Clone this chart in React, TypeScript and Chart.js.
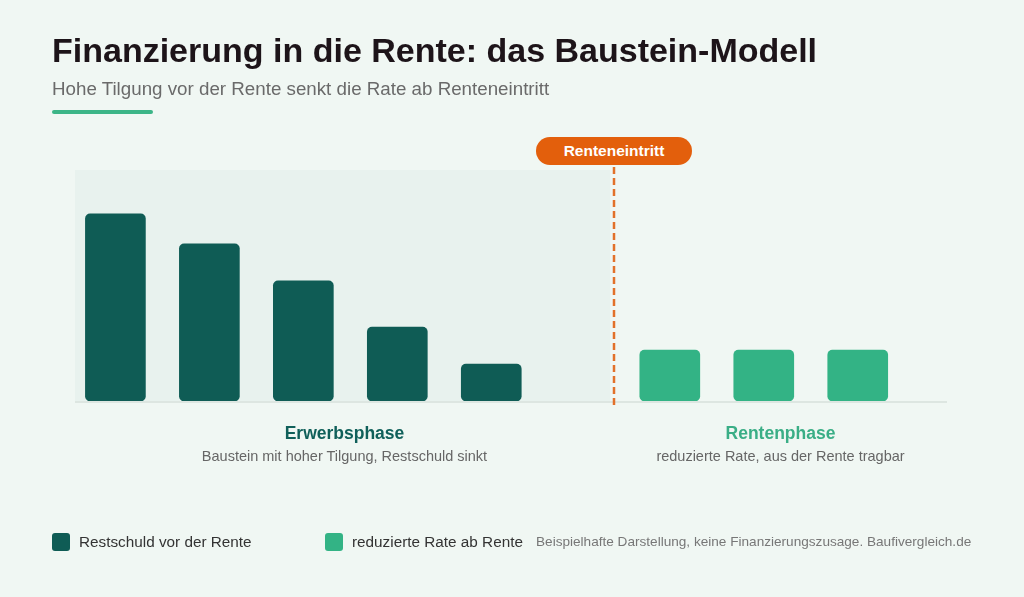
import React, { useEffect, useRef } from "react";
import { Chart, registerables } from "chart.js";

Chart.register(...registerables);

// ---- data ----
const restschuldSlots = [0, 1, 2, 3, 4];
const restschuldValues = [81, 68, 52, 32, 16];
const rateSlots = [5.9, 6.9, 7.9];
const rateValues = [22, 22, 22];
const renteneintrittSlot = 5.31;
const xRange = [-0.43, 8.85];
const yMax = 100;

const TITLE = "Finanzierung in die Rente: das Baustein-Modell";
const SUBTITLE = "Hohe Tilgung vor der Rente senkt die Rate ab Renteneintritt";
const MARKER = "Renteneintritt";
const LEGEND_A = "Restschuld vor der Rente";
const LEGEND_B = "reduzierte Rate ab Rente";
const NOTE = "Beispielhafte Darstellung, keine Finanzierungszusage. Baufivergleich.de";
const PHASE_A = "Erwerbsphase";
const PHASE_A_SUB = "Baustein mit hoher Tilgung, Restschuld sinkt";
const PHASE_B = "Rentenphase";
const PHASE_B_SUB = "reduzierte Rate, aus der Rente tragbar";

const C_BG = "#f0f7f3";
const C_SHADE = "#e8f2ee";
const C_DARK = "#0f5c55";
const C_LIGHT = "#33b385";
const C_ORANGE = "#e35f0c";
const FONT = "'Liberation Sans', Arial, Helvetica, sans-serif";

export default function App() {
  const ref = useRef<HTMLCanvasElement | null>(null);

  useEffect(() => {
    document.body.style.margin = "0";
    const canvas = ref.current;
    if (!canvas) return;

    const decor = {
      id: "decor",
      beforeDatasetsDraw(chart: any) {
        const { ctx, chartArea, scales } = chart;
        const xr = scales.x.getPixelForValue(renteneintrittSlot);
        ctx.save();
        ctx.fillStyle = C_SHADE;
        ctx.fillRect(chartArea.left, chartArea.top, xr - 4 - chartArea.left, chartArea.bottom - chartArea.top);
        ctx.strokeStyle = "#dde6e1";
        ctx.lineWidth = 2;
        ctx.beginPath();
        ctx.moveTo(chartArea.left, chartArea.bottom + 1);
        ctx.lineTo(chartArea.right, chartArea.bottom + 1);
        ctx.stroke();
        ctx.restore();
      },
      afterDatasetsDraw(chart: any) {
        const { ctx, chartArea, scales } = chart;
        const xr = Math.round(scales.x.getPixelForValue(renteneintrittSlot));
        ctx.save();
        ctx.strokeStyle = "#e2712a";
        ctx.lineWidth = 2.5;
        ctx.setLineDash([7, 4]);
        ctx.beginPath();
        ctx.moveTo(xr, chartArea.top - 3);
        ctx.lineTo(xr, chartArea.bottom + 6);
        ctx.stroke();
        ctx.restore();
      },
    };

    const chart = new Chart(canvas, {
      type: "bar",
      data: {
        datasets: [
          {
            label: LEGEND_A,
            data: restschuldSlots.map((x, i) => ({ x, y: restschuldValues[i] })),
            backgroundColor: C_DARK,
            borderRadius: 5,
            borderSkipped: false,
            barThickness: 60,
            grouped: false,
          },
          {
            label: LEGEND_B,
            data: rateSlots.map((x, i) => ({ x, y: rateValues[i] })),
            backgroundColor: C_LIGHT,
            borderRadius: 5,
            borderSkipped: false,
            barThickness: 60,
            grouped: false,
          },
        ],
      },
      options: {
        animation: false,
        responsive: false,
        maintainAspectRatio: false,
        layout: { padding: { left: 75, right: 77, top: 170, bottom: 196 } },
        scales: {
          x: { type: "linear", min: xRange[0], max: xRange[1], offset: false, display: false },
          y: { min: 0, max: yMax, display: false },
        },
        plugins: { legend: { display: false }, tooltip: { enabled: false } },
      },
      plugins: [decor],
    } as any);
    return () => chart.destroy();
  }, []);

  const abs = (s: React.CSSProperties): React.CSSProperties => ({ position: "absolute", whiteSpace: "nowrap", ...s });

  return (
    <div style={{ position: "relative", width: 1024, height: 597, background: C_BG, fontFamily: FONT, overflow: "hidden" }}>
      <canvas ref={ref} width={1024} height={597} style={{ position: "absolute", left: 0, top: 0, width: 1024, height: 597 }} />
      <div style={abs({ left: 52, top: 33, fontSize: 34, lineHeight: "34px", fontWeight: 700, color: "#1d1419" })}>{TITLE}</div>
      <div style={abs({ left: 52, top: 80, fontSize: 18.75, lineHeight: "18px", color: "#6a6a6a" })}>{SUBTITLE}</div>
      <div style={abs({ left: 52, top: 110, width: 101, height: 4, borderRadius: 2, background: "#3cb587" })} />
      <div style={abs({ left: 536, top: 137, width: 156, height: 28, borderRadius: 14, background: C_ORANGE, color: "#fff", fontWeight: 700, fontSize: 15.5, lineHeight: "28px", textAlign: "center" })}>{MARKER}</div>
      <div style={abs({ left: 75, width: 539, top: 424, textAlign: "center", fontSize: 17.5, lineHeight: "18px", fontWeight: 700, color: "#10605a" })}>{PHASE_A}</div>
      <div style={abs({ left: 75, width: 539, top: 449, textAlign: "center", fontSize: 14.5, lineHeight: "15px", color: "#666" })}>{PHASE_A_SUB}</div>
      <div style={abs({ left: 614, width: 333, top: 424, textAlign: "center", fontSize: 17.5, lineHeight: "18px", fontWeight: 700, color: "#3aae86" })}>{PHASE_B}</div>
      <div style={abs({ left: 614, width: 333, top: 449, textAlign: "center", fontSize: 14.5, lineHeight: "15px", color: "#666" })}>{PHASE_B_SUB}</div>
      <div style={abs({ left: 52, top: 533, width: 18, height: 18, borderRadius: 3, background: C_DARK })} />
      <div style={abs({ left: 79, top: 534, fontSize: 15.3, lineHeight: "16px", color: "#333" })}>{LEGEND_A}</div>
      <div style={abs({ left: 325, top: 533, width: 18, height: 18, borderRadius: 3, background: C_LIGHT })} />
      <div style={abs({ left: 352, top: 534, fontSize: 15.3, lineHeight: "16px", color: "#333" })}>{LEGEND_B}</div>
      <div style={abs({ left: 536, top: 535, fontSize: 13.6, lineHeight: "14px", color: "#777" })}>{NOTE}</div>
    </div>
  );
}
